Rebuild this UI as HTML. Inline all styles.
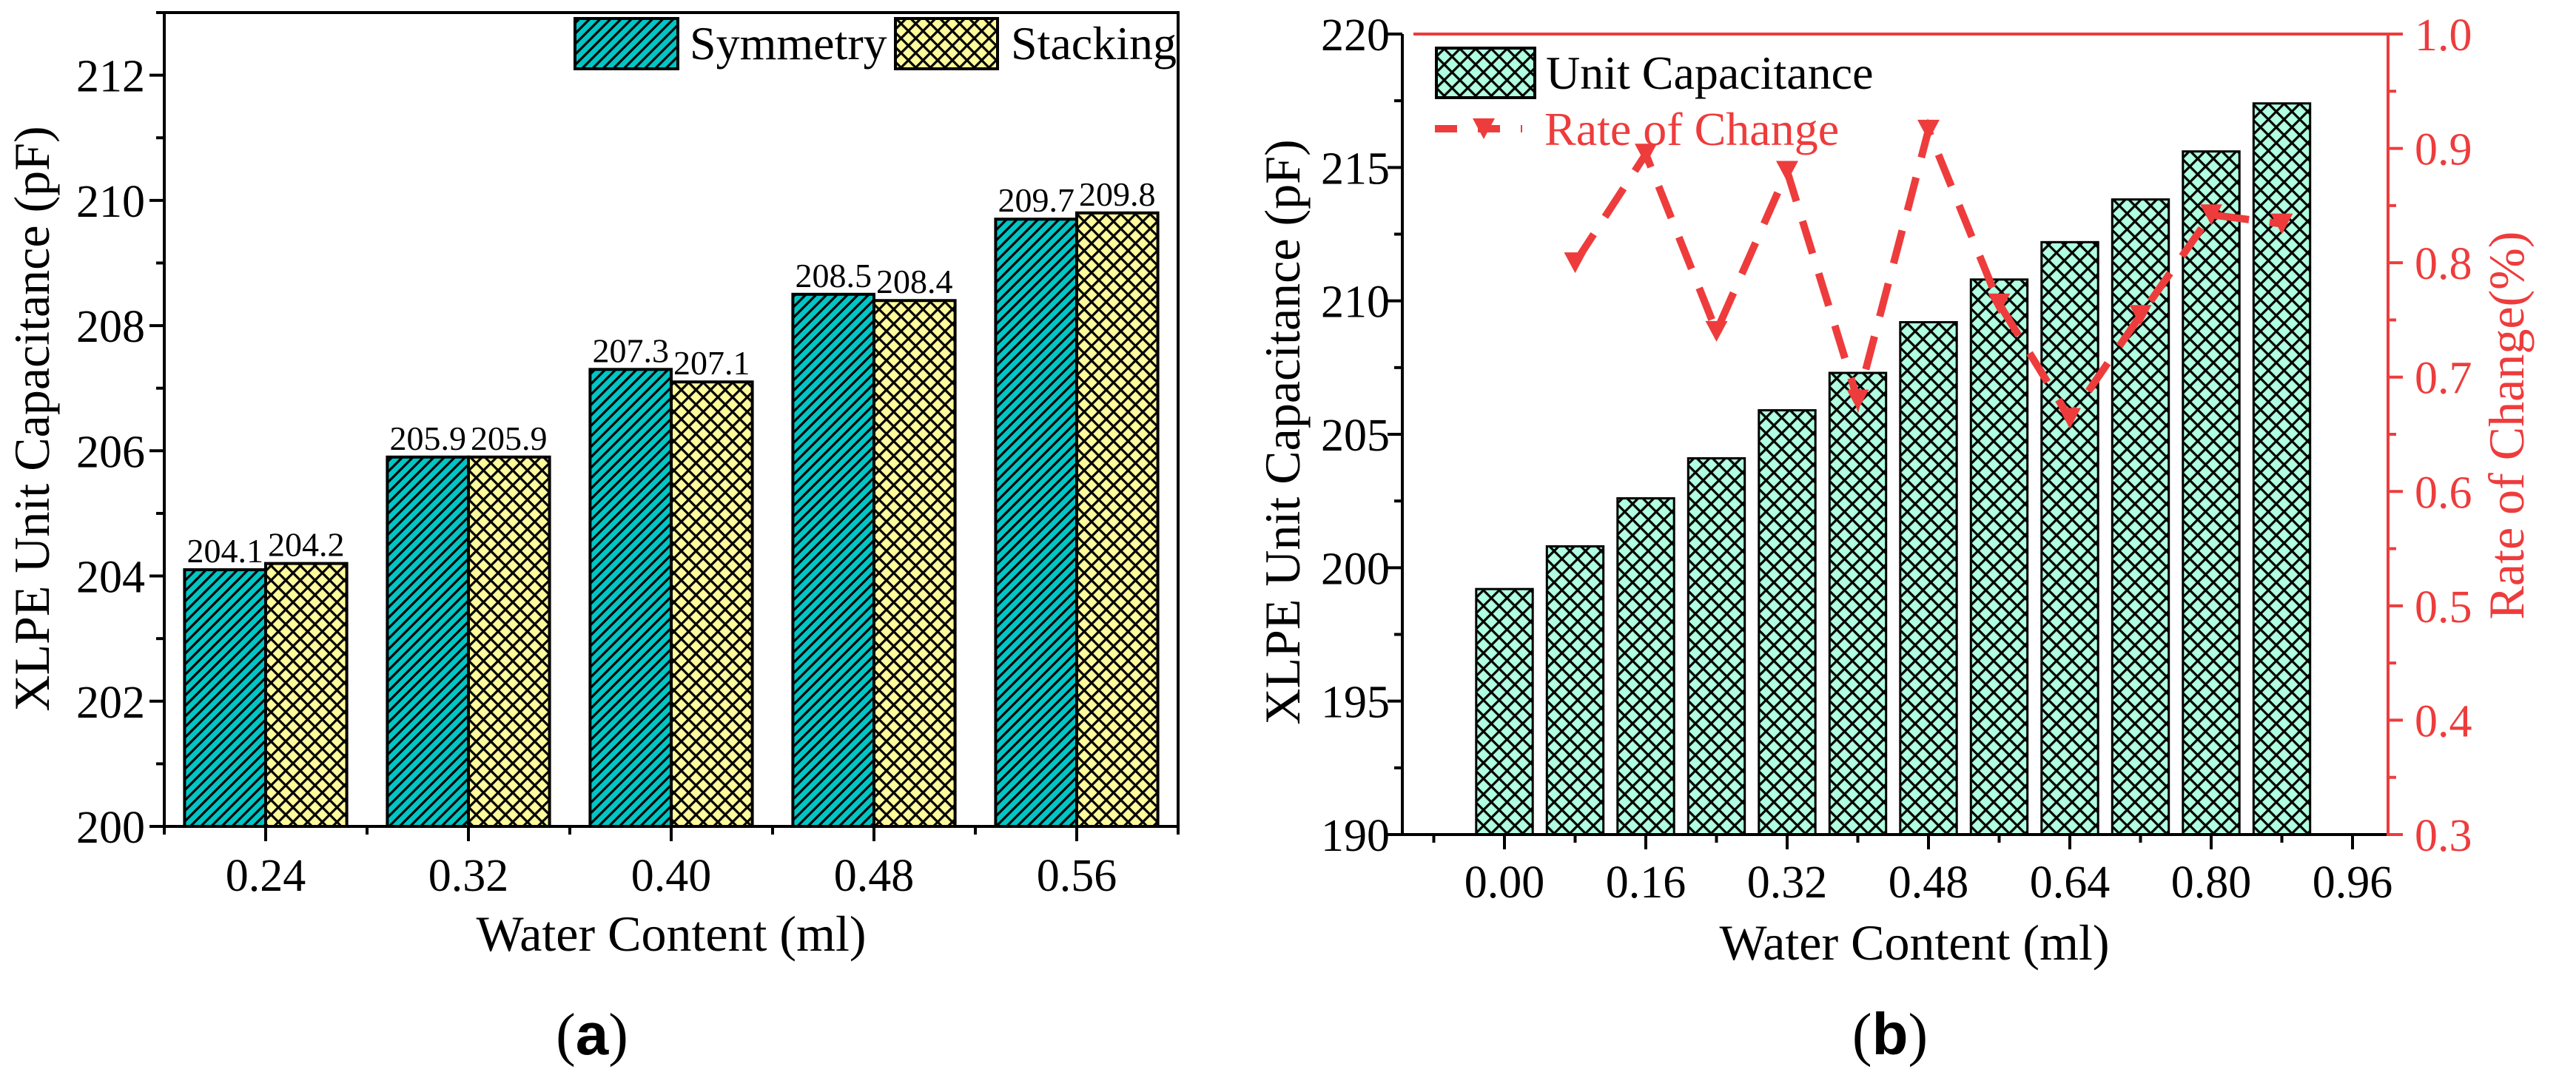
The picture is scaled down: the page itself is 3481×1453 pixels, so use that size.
<!DOCTYPE html>
<html><head><meta charset="utf-8"><style>
html,body{margin:0;padding:0;background:#fff;}
svg{display:block;font-family:"Liberation Serif",serif;}
text{font-family:"Liberation Serif",serif;}
</style></head>
<body>
<svg id="fig" width="3481" height="1453" viewBox="0 0 3481 1453" xmlns="http://www.w3.org/2000/svg" font-family="Liberation Serif, serif">
<defs>
<pattern id="diag" patternUnits="userSpaceOnUse" width="10" height="10" patternTransform="rotate(45)">
<rect width="10" height="10" fill="#00c6c6"/><rect x="0" y="0" width="3.2" height="10" fill="#000"/>
</pattern>
<pattern id="crossY" patternUnits="userSpaceOnUse" width="14" height="14" patternTransform="rotate(45)">
<rect width="14" height="14" fill="#fffa9c"/><rect x="0" y="0" width="3.2" height="14" fill="#000"/><rect x="0" y="0" width="14" height="3.2" fill="#000"/>
</pattern>
<pattern id="crossM" patternUnits="userSpaceOnUse" width="15" height="15" patternTransform="rotate(45)">
<rect width="15" height="15" fill="#b0ffe0"/><rect x="0" y="0" width="3.2" height="15" fill="#000"/><rect x="0" y="0" width="15" height="3.2" fill="#000"/>
</pattern>
</defs>
<g id="pa"></g>
<g id="pb"></g>
</svg>
<script>
// Panel (a) data
const catsA = ["0.24","0.32","0.40","0.48","0.56"];
const symA = [204.1, 205.9, 207.3, 208.5, 209.7];
const stackA = [204.2, 205.9, 207.1, 208.4, 209.8];
const yTicksA = [200, 202, 204, 206, 208, 210, 212];
// Panel (b) data
const xB = [0, 0.08, 0.16, 0.24, 0.32, 0.40, 0.48, 0.56, 0.64, 0.72, 0.80, 0.88];
const capB = [199.2, 200.8, 202.6, 204.1, 205.9, 207.3, 209.2, 210.8, 212.2, 213.8, 215.6, 217.4];
const rateX = [0.08, 0.16, 0.24, 0.32, 0.40, 0.48, 0.56, 0.64, 0.72, 0.80, 0.88];
const rateB = [0.80, 0.895, 0.74, 0.88, 0.68, 0.916, 0.764, 0.664, 0.754, 0.842, 0.834];
const xTicksB = ["0.00","0.16","0.32","0.48","0.64","0.80","0.96"];
const yTicksB = [190, 195, 200, 205, 210, 215, 220];
const rTicksB = ["0.3","0.4","0.5","0.6","0.7","0.8","0.9","1.0"];

const NS = "http://www.w3.org/2000/svg";
function mk(parent, tag, attrs, txt){
  const e = document.createElementNS(NS, tag);
  for (const k in attrs) e.setAttribute(k, attrs[k]);
  if (txt !== undefined) e.textContent = txt;
  parent.appendChild(e);
  return e;
}
const RED = "#ee3c3c";
const FS = 62, TS = 68;

// ---------- Panel A ----------
(function(){
  const g = document.getElementById('pa');
  const L=222, R=1592, T=17, B=1117;
  const y = v => B - (v-200)*(B-T)/13;
  const x = i => L + (i+0.5)*(R-L)/5;
  const step = (R-L)/5, bw = step*0.4;
  symA.forEach((v,i)=>{
    const r = mk(g,'rect',{x:x(i)-bw,y:y(v),width:bw,height:B-y(v),fill:'url(#diag)',stroke:'#000','stroke-width':4});
    
    
    const t = mk(g,'text',{x:x(i)-bw/2,y:y(v)-10,'font-size':46,'text-anchor':'middle'},String(v));
    
    
  });
  stackA.forEach((v,i)=>{
    const r = mk(g,'rect',{x:x(i),y:y(v),width:bw,height:B-y(v),fill:'url(#crossY)',stroke:'#000','stroke-width':4});
    
    
    const t = mk(g,'text',{x:x(i)+bw/2,y:y(v)-10,'font-size':46,'text-anchor':'middle'},String(v));
    
    
  });
  const fr = mk(g,'rect',{x:L,y:T,width:R-L,height:B-T,fill:'none',stroke:'#000','stroke-width':4});
  
  
  for(let v=200; v<=213; v++){
    const major = v%2===0;
    mk(g,'line',{x1:L,x2:L-(major?20:11),y1:y(v),y2:y(v),stroke:'#000','stroke-width':4});
  }
  yTicksA.forEach(v=>{
    const t = mk(g,'text',{x:L-26,y:y(v)+22,'font-size':FS,'text-anchor':'end'},String(v));
    
    
  });
  for(let k=0;k<=10;k++){
    const xx = L + k*step/2;
    mk(g,'line',{x1:xx,x2:xx,y1:B,y2:B+(k%2?20:11),stroke:'#000','stroke-width':4});
  }
  catsA.forEach((c,i)=>{
    const t = mk(g,'text',{x:x(i),y:1204,'font-size':FS,'text-anchor':'middle'},c);
    
    
  });
  let t = mk(g,'text',{x:(L+R)/2,y:1285,'font-size':TS,'text-anchor':'middle'},'Water Content (ml)');
  
  
  t = mk(g,'text',{x:0,y:0,'font-size':TS,'text-anchor':'middle',transform:'translate(66,566) rotate(-90)'},'XLPE Unit Capacitance (pF)');
  
  
  let lg = mk(g,'g',{});
  
  
  mk(lg,'rect',{x:777,y:25,width:139,height:68,fill:'url(#diag)',stroke:'#000','stroke-width':4});
  t = mk(lg,'text',{x:932,y:80,'font-size':64},'Symmetry');
  
  
  mk(lg,'rect',{x:1210,y:25,width:138,height:68,fill:'url(#crossY)',stroke:'#000','stroke-width':4});
  t = mk(lg,'text',{x:1366,y:80,'font-size':64},'Stacking');
  
  
  t = mk(g,'text',{x:800,y:1425,'font-size':80,'text-anchor':'middle'},'');
  
  
  mk(t,'tspan',{},'(');
  mk(t,'tspan',{'font-weight':'bold','font-family':'Liberation Sans, sans-serif'},'a');
  mk(t,'tspan',{},')');
})();

// ---------- Panel B ----------
(function(){
  const g = document.getElementById('pb');
  const L=1895, R=3227, T=46, B=1128;
  const x = v => 2033 + v*(3179-2033)/0.96;
  const y = v => B - (v-190)*(B-T)/30;
  const yr = v => B - (v-0.3)*(B-T)/0.7;
  const bw = 0.08*(3179-2033)/0.96*0.8;
  xB.forEach((xv,i)=>{
    const v = capB[i];
    const r = mk(g,'rect',{x:x(xv)-bw/2,y:y(v),width:bw,height:B-y(v),fill:'url(#crossM)',stroke:'#000','stroke-width':3});
    
    
  });
  const pts = rateX.map((xv,i)=>x(xv)+','+yr(rateB[i])).join(' ');
  const pl = mk(g,'polyline',{points:pts,fill:'none',stroke:RED,'stroke-width':10,'stroke-dasharray':'46,28'});
  
  
  rateX.forEach((xv,i)=>{
    const cx=x(xv), cy=yr(rateB[i]);
    const m = mk(g,'polygon',{points:`${cx-15},${cy-14} ${cx+15},${cy-14} ${cx},${cy+14}`,fill:RED});
    
    
  });
  mk(g,'line',{x1:L,x2:L,y1:T,y2:B+2,stroke:'#000','stroke-width':4});
  mk(g,'line',{x1:L-2,x2:R,y1:B,y2:B,stroke:'#000','stroke-width':4});
  mk(g,'line',{x1:L+15,x2:R,y1:T,y2:T,stroke:RED,'stroke-width':4});
  mk(g,'line',{x1:R,x2:R,y1:T-2,y2:B+2,stroke:RED,'stroke-width':4});
  for(let v=190; v<=220; v+=2.5){
    const major = v%5===0;
    mk(g,'line',{x1:L,x2:L-(major?20:11),y1:y(v),y2:y(v),stroke:'#000','stroke-width':4});
  }
  yTicksB.forEach(v=>{
    const t = mk(g,'text',{x:L-17,y:y(v)+22,'font-size':FS,'text-anchor':'end'},String(v));
    
    
  });
  for(let k=0;k<=14;k++){
    const v=0.3+k*0.05;
    mk(g,'line',{x1:R,x2:R+(k%2?11:20),y1:yr(v),y2:yr(v),stroke:RED,'stroke-width':4});
  }
  rTicksB.forEach(s=>{
    const t = mk(g,'text',{x:R+36,y:yr(parseFloat(s))+22,'font-size':FS,fill:RED},s);
    
    
  });
  for(let k=-1;k<=12;k++){
    const v=k*0.08;
    mk(g,'line',{x1:x(v),x2:x(v),y1:B,y2:B+(k%2?11:20),stroke:'#000','stroke-width':4});
  }
  xTicksB.forEach(s=>{
    const t = mk(g,'text',{x:x(parseFloat(s)),y:1213,'font-size':FS,'text-anchor':'middle'},s);
    
    
  });
  let t = mk(g,'text',{x:2587,y:1297,'font-size':TS,'text-anchor':'middle'},'Water Content (ml)');
  
  
  t = mk(g,'text',{x:0,y:0,'font-size':TS,'text-anchor':'middle',transform:'translate(1756,584) rotate(-90)'},'XLPE Unit Capacitance (pF)');
  
  
  t = mk(g,'text',{x:0,y:0,'font-size':TS,'text-anchor':'middle',fill:RED,transform:'translate(3410,575) rotate(-90)'},'Rate of Change(%)');
  
  
  const lg = mk(g,'g',{});
  
  
  mk(lg,'rect',{x:1941,y:65,width:133,height:67,fill:'url(#crossM)',stroke:'#000','stroke-width':4});
  t = mk(lg,'text',{x:2089,y:120,'font-size':64},'Unit Capacitance');
  
  
  mk(lg,'line',{x1:1939,x2:2057,y1:174,y2:174,stroke:RED,'stroke-width':10,'stroke-dasharray':'30,28'});
  mk(lg,'polygon',{points:'1990,160 2020,160 2005,188',fill:RED});
  t = mk(lg,'text',{x:2087,y:196,'font-size':64,fill:RED},'Rate of Change');
  
  
  t = mk(g,'text',{x:2554,y:1425,'font-size':80,'text-anchor':'middle'},'');
  
  
  mk(t,'tspan',{},'(');
  mk(t,'tspan',{'font-weight':'bold','font-family':'Liberation Sans, sans-serif'},'b');
  mk(t,'tspan',{},')');
})();
</script>
</body></html>
